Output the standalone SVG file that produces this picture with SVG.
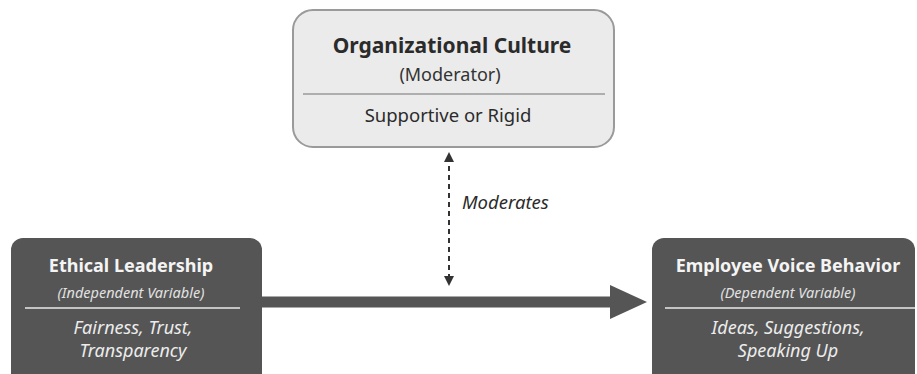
<svg xmlns="http://www.w3.org/2000/svg" width="917" height="374" viewBox="0 0 917 374">
  <style>
    text { font-family: "Noto Sans", "Open Sans", "DejaVu Sans", sans-serif; text-anchor: middle; }
    .light-title { font-size: 21px; font-weight: bold; fill: #2b2b2b; }
    .light-sub { font-size: 18px; fill: #333; }
    .light-body { font-size: 18.5px; fill: #2b2b2b; }
    .dark-title { font-size: 18px; font-weight: bold; fill: #f4f4f4; }
    .dark-sub { font-size: 14.5px; font-style: italic; fill: #e2e2e2; }
    .dark-body { font-size: 18px; font-style: italic; fill: #ececec; }
    .label { font-size: 18.5px; font-style: italic; fill: #2b2b2b; text-anchor: start; }
    .light-box { fill: #ebebeb; stroke: #9a9a9a; stroke-width: 2; }
    .dark-box { fill: #555; }
    .light-rule { stroke: #9a9a9a; stroke-width: 1.5; }
    .dark-rule { stroke: #c4c4c4; stroke-width: 2; }
  </style>
  <defs>
    <marker id="tri" viewBox="0 0 10 10" refX="5" refY="5" markerWidth="10" markerHeight="10" markerUnits="userSpaceOnUse" orient="auto-start-reverse">
      <path d="M0,0 L10,5 L0,10 z" fill="#333"/>
    </marker>
  </defs>
  <rect width="917" height="374" fill="#fff"/>

  <g id="connectors">
    <!-- main effect arrow -->
    <rect x="253" y="296.5" width="360" height="11" fill="#555"/>
    <path d="M610,285 L647,302 L610,319 z" fill="#555"/>
    <!-- moderation link -->
    <line x1="449" y1="157" x2="449" y2="281" stroke="#333" stroke-width="2" stroke-dasharray="5 4" marker-start="url(#tri)" marker-end="url(#tri)"/>
    <text class="label" x="462" y="209">Moderates</text>
  </g>

  <g id="organizational-culture">
    <rect class="light-box" x="293" y="10" width="321" height="137" rx="20"/>
    <text class="light-title" x="452" y="53">Organizational Culture</text>
    <text class="light-sub" x="450" y="81">(Moderator)</text>
    <line class="light-rule" x1="303" y1="94" x2="605" y2="94"/>
    <text class="light-body" x="448" y="122">Supportive or Rigid</text>
  </g>

  <g id="ethical-leadership">
    <rect class="dark-box" x="11" y="238" width="251" height="150" rx="12"/>
    <text class="dark-title" x="131" y="272">Ethical Leadership</text>
    <text class="dark-sub" x="131" y="298">(Independent Variable)</text>
    <line class="dark-rule" x1="25" y1="308" x2="240" y2="308"/>
    <text class="dark-body" x="133" y="334">Fairness, Trust,</text>
    <text class="dark-body" x="133" y="357">Transparency</text>
  </g>

  <g id="employee-voice-behavior">
    <rect class="dark-box" x="652" y="238" width="263" height="150" rx="12"/>
    <text class="dark-title" x="788" y="272">Employee Voice Behavior</text>
    <text class="dark-sub" x="788" y="298">(Dependent Variable)</text>
    <line class="dark-rule" x1="665" y1="308" x2="915" y2="308"/>
    <text class="dark-body" x="788" y="334">Ideas, Suggestions,</text>
    <text class="dark-body" x="788" y="357">Speaking Up</text>
  </g>
</svg>
